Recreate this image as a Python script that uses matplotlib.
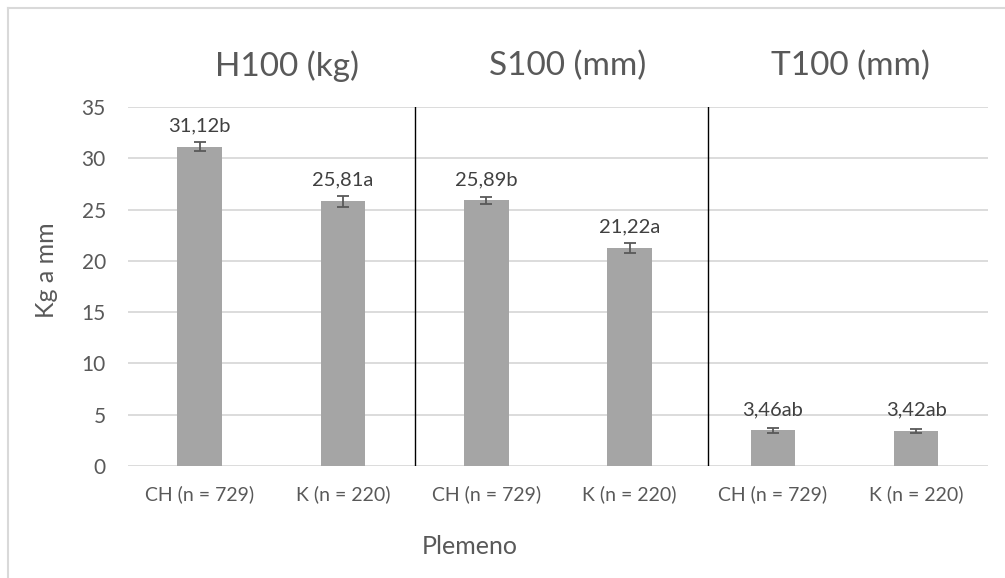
import matplotlib.pyplot as plt
from matplotlib.lines import Line2D

plt.rcParams['font.family'] = ['Lato', 'DejaVu Sans']

kategorie = ['CH (n = 729)', 'K (n = 220)', 'CH (n = 729)', 'K (n = 220)', 'CH (n = 729)', 'K (n = 220)']
hodnoty = [31.12, 25.81, 25.89, 21.22, 3.46, 3.42]
chyby = [0.45, 0.54, 0.36, 0.49, 0.2, 0.2]
popisky = ['31,12b', '25,81a', '25,89b', '21,22a', '3,46ab', '3,42ab']
skupiny = ['H100 (kg)', 'S100 (mm)', 'T100 (mm)']

SEDA = '#595959'
MRIZKA = '#d9d9d9'

fig = plt.figure(figsize=(10.05, 5.78), dpi=100)
ax = fig.add_axes([0.1274, 0.1938, 0.8556, 0.6211])

x = list(range(len(hodnoty)))
ax.bar(x, hodnoty, width=0.31, color='#a5a5a5', zorder=3)
ax.errorbar(x, hodnoty, yerr=chyby, fmt='none', ecolor=SEDA, elinewidth=1.3,
            capsize=4, capthick=1.3, zorder=4)

for xi, v, e, t in zip(x, hodnoty, chyby, popisky):
    ax.annotate(t, (xi, v), xytext=(0, 9), textcoords='offset points',
                ha='center', va='bottom', fontsize=14.5, color='#404040')

ax.set_xlim(-0.5, 5.5)
ax.set_ylim(0, 35)
ax.set_yticks(range(0, 36, 5))
ax.set_xticks(x)
ax.set_xticklabels(kategorie)
ax.tick_params(axis='both', length=0, labelsize=14.5, labelcolor=SEDA)
ax.tick_params(axis='x', labelsize=14)
ax.tick_params(axis='y', pad=16, labelsize=15)
ax.tick_params(axis='x', pad=14)
ax.grid(axis='y', color=MRIZKA, lw=1.3, zorder=0)
for s in ax.spines.values():
    s.set_visible(False)

# svisle oddelovace skupin
for xd in [1.5, 3.55]:
    ax.plot([xd, xd], [0, 35], color='black', lw=1, zorder=5)

# nadpisy skupin
for xt, t in zip([0.61, 2.57, 4.54], skupiny):
    ax.text(xt, 1.115, t, transform=ax.get_xaxis_transform(), ha='center',
            va='center', fontsize=24, color=SEDA)

fig.text(47 / 1005, 1 - 270 / 578, 'Kg a mm', rotation=90, ha='center', va='center',
         fontsize=18, color=SEDA)
fig.text(470 / 1005, 1 - 547 / 578, 'Plemeno', ha='center', va='center',
         fontsize=18, color=SEDA)

# ramecek grafu
fig.add_artist(Line2D([8 / 1005, 8 / 1005], [0, 1 - 8 / 578], color=MRIZKA, lw=1.5,
                      transform=fig.transFigure))
fig.add_artist(Line2D([8 / 1005, 1], [1 - 8 / 578, 1 - 8 / 578], color=MRIZKA, lw=1.5,
                      transform=fig.transFigure))

fig.savefig('out.png', dpi=100)
